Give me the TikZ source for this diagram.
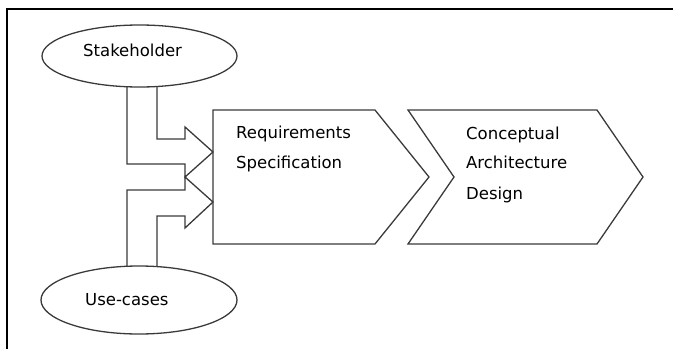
\documentclass[tikz,border=0pt]{standalone}
\usepackage{fontspec}
\setmainfont{DejaVu Sans}
\usetikzlibrary{shapes.geometric}
\definecolor{linegray}{HTML}{3A3A3A}
\tikzset{
  outline/.style={draw=linegray, line width=1.3pt, line join=miter},
  oval/.style={ellipse, draw=linegray, line width=1.3pt, inner sep=0pt},
  txt/.style={anchor=base west, inner sep=0pt, font=\fontsize{16.5}{20}\selectfont, text=black}
}
\begin{document}
\begin{tikzpicture}[x=1pt,y=-1pt]
\useasboundingbox (0,0) rectangle (673,349);
% frame (top and left edges only)
\draw[line width=1.6pt, black] (673,9) -- (7,9) -- (7,349);

% ellipses
\node[oval, minimum width=195pt, minimum height=62pt] (stake) at (139.5,56) {};
\node[oval, minimum width=196pt, minimum height=68pt] (use) at (139,300) {};
\node[txt] (stakelbl) at (83,56) {Stakeholder};
\node[txt] (uselbl) at (85,305) {Use-cases};

% process shapes
\coordinate (rq) at (213,110);
\draw[outline] (213,110) -- (375,110) -- (429,177) -- (375,244) -- (213,244) -- cycle;
\draw[outline] (408,110) -- (597,110) -- (643,177) -- (597,244) -- (408,244) -- (454,177) -- cycle;
\node[txt] (rq1) at (236,138) {Requirements};
\node[txt] (rq2) at (236,168) {Specification};
\node[txt] (ca1) at (466,139) {Conceptual};
\node[txt] (ca2) at (466,168) {Architecture};
\node[txt] (ca3) at (466,199) {Design};

% bent block arrows
\draw[outline] (127,86.7) -- (127,164) -- (185,164) -- (185,177) -- (213,152)
  -- (185,127) -- (185,139) -- (157,139) -- (157,86.5);
\draw[outline] (127,266.3) -- (127,190) -- (185,190) -- (185,177) -- (213,202)
  -- (185,228) -- (185,216) -- (157,216) -- (157,266.9);
\end{tikzpicture}
\end{document}
